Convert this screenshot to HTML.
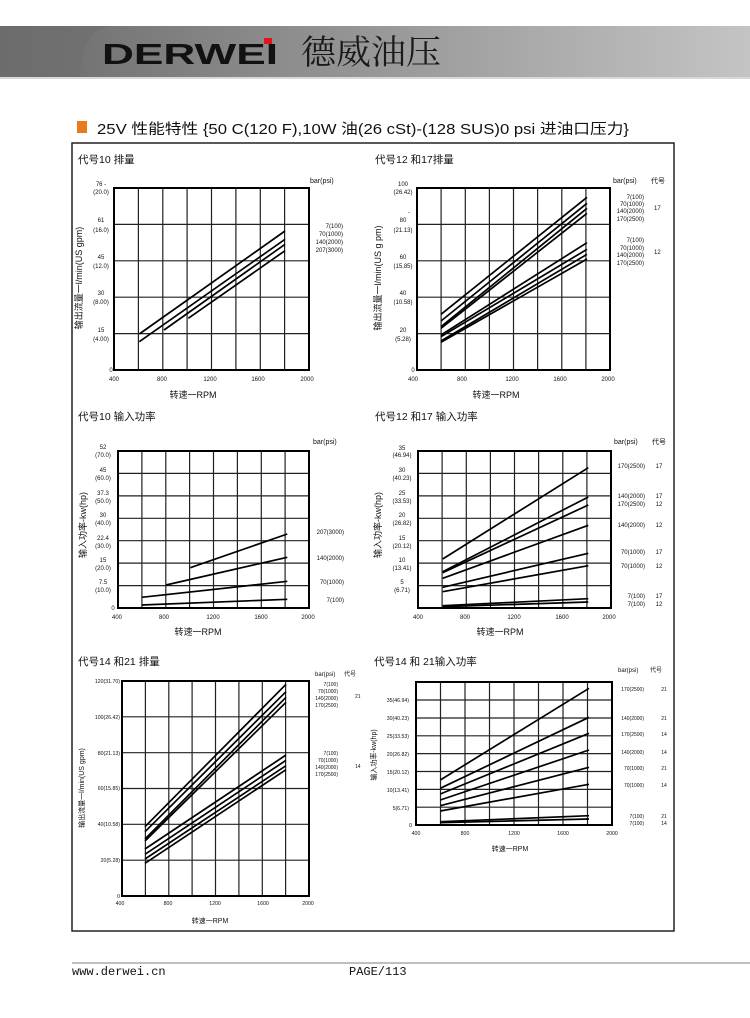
<!DOCTYPE html>
<html><head><meta charset="utf-8"><style>
html,body{margin:0;padding:0;background:#fff}
svg{display:block}
text{font-family:"Liberation Sans","Noto Sans CJK SC",sans-serif;fill:#111}
.g{stroke:#222;stroke-width:1.2;fill:none}
.f{stroke:#000;stroke-width:2;fill:none}
.d{stroke:#000;stroke-width:1.7;fill:none}
.t{font-size:10.5px}
.s{font-size:6px}
.m{font-size:7px}
.ax{font-size:9px}
</style></head><body>
<svg width="750" height="1018" viewBox="0 0 750 1018" xmlns="http://www.w3.org/2000/svg">
<defs>
<linearGradient id="hb" x1="0" x2="1" y1="0" y2="0">
<stop offset="0" stop-color="#6a6a6a"/><stop offset="0.35" stop-color="#8a8a8a"/><stop offset="0.7" stop-color="#a9a9a9"/><stop offset="1" stop-color="#c4c4c4"/>
</linearGradient>
</defs>
<rect x="0" y="26" width="750" height="52" fill="url(#hb)"/>
<path d="M80 78 Q82 30 110 26 L0 26 L0 78Z" fill="#6e6e6e" opacity="0.6"/>
<rect x="0" y="77" width="750" height="2" fill="#d8d8d8"/>
<text x="102" y="64" style="font-family:'Liberation Sans',sans-serif;font-weight:bold;font-size:29px;fill:#111" textLength="176" lengthAdjust="spacingAndGlyphs">DERWEI</text>
<rect x="264" y="38" width="8" height="6" fill="#e0141c"/>
<text x="301" y="64" style="font-family:'Noto Serif CJK SC',serif;font-size:34px;fill:#1a1a1a" textLength="140" lengthAdjust="spacingAndGlyphs">德威油压</text>

<rect x="77" y="121" width="10" height="12" fill="#e87a1e"/>
<text x="97" y="134" style="font-family:'Liberation Sans','Noto Sans CJK SC',sans-serif;font-size:14.5px" textLength="532" lengthAdjust="spacingAndGlyphs">25V 性能特性 {50 C(120 F),10W 油(26 cSt)-(128 SUS)0 psi 进油口压力}</text>

<rect x="72" y="143" width="602" height="788" fill="none" stroke="#222" stroke-width="1.5"/>

<!-- Chart 1 -->
<text x="78" y="163" class="t">代号10 排量</text>
<g class="g">
<line x1="138.4" y1="188" x2="138.4" y2="370"/><line x1="162.8" y1="188" x2="162.8" y2="370"/><line x1="187.1" y1="188" x2="187.1" y2="370"/><line x1="211.5" y1="188" x2="211.5" y2="370"/><line x1="235.9" y1="188" x2="235.9" y2="370"/><line x1="260.3" y1="188" x2="260.3" y2="370"/><line x1="284.6" y1="188" x2="284.6" y2="370"/>
<line x1="114" y1="224.4" x2="309" y2="224.4"/><line x1="114" y1="260.8" x2="309" y2="260.8"/><line x1="114" y1="297.2" x2="309" y2="297.2"/><line x1="114" y1="333.6" x2="309" y2="333.6"/>
</g>
<rect x="114" y="188" width="195" height="182" class="f"/>
<g class="d">
<line x1="139.3" y1="334" x2="285" y2="231"/><line x1="139.3" y1="341.7" x2="285" y2="239.3"/><line x1="164" y1="330" x2="285" y2="244.3"/><line x1="188.3" y1="318.3" x2="285" y2="250.7"/>
</g>
<g class="s" text-anchor="middle">
<text x="101" y="186">76 -</text><text x="101" y="194">(20.0)</text>
<text x="101" y="222">61</text><text x="101" y="232">(16.0)</text>
<text x="101" y="259">45</text><text x="101" y="268">(12.0)</text>
<text x="101" y="295">30</text><text x="101" y="304">(8.00)</text>
<text x="101" y="332">15</text><text x="101" y="341">(4.00)</text>
<text x="111" y="372">0</text>
<text x="114" y="381">400</text><text x="162" y="381">800</text><text x="210" y="381">1200</text><text x="258" y="381">1600</text><text x="307" y="381">2000</text>
</g>
<text x="193" y="398" class="ax" text-anchor="middle">转速一RPM</text>
<text transform="translate(82,278) rotate(-90)" class="ax" text-anchor="middle">输出流量一l/min(US gpm)</text>
<text x="310" y="183" class="m">bar(psi)</text>
<g class="s" text-anchor="end"><text x="343" y="228">7(100)</text><text x="343" y="236">70(1000)</text><text x="343" y="244">140(2000)</text><text x="343" y="252">207(3000)</text></g>

<!-- Chart 2 -->
<text x="375" y="163" class="t">代号12 和17排量</text>
<g class="g">
<line x1="441.1" y1="188" x2="441.1" y2="370"/><line x1="465.3" y1="188" x2="465.3" y2="370"/><line x1="489.4" y1="188" x2="489.4" y2="370"/><line x1="513.5" y1="188" x2="513.5" y2="370"/><line x1="537.6" y1="188" x2="537.6" y2="370"/><line x1="561.8" y1="188" x2="561.8" y2="370"/><line x1="585.9" y1="188" x2="585.9" y2="370"/>
<line x1="417" y1="224.4" x2="610" y2="224.4"/><line x1="417" y1="260.8" x2="610" y2="260.8"/><line x1="417" y1="297.2" x2="610" y2="297.2"/><line x1="417" y1="333.6" x2="610" y2="333.6"/>
</g>
<rect x="417" y="188" width="193" height="182" class="f"/>
<g class="d">
<line x1="441" y1="314.3" x2="587" y2="197.3"/><line x1="441" y1="321" x2="587" y2="203.3"/><line x1="441" y1="326.7" x2="587" y2="208.3"/><line x1="441" y1="328.3" x2="587" y2="213.3"/>
<line x1="441" y1="335" x2="587" y2="242.7"/><line x1="441" y1="336.7" x2="587" y2="249.3"/><line x1="441" y1="341" x2="587" y2="254.3"/><line x1="441" y1="342.3" x2="587" y2="259"/>
</g>
<g class="s" text-anchor="middle">
<text x="403" y="186">100</text><text x="403" y="194">(26.42)</text>
<text x="409" y="214">-</text>
<text x="403" y="222">80</text><text x="403" y="232">(21.13)</text>
<text x="403" y="259">60</text><text x="403" y="268">(15.85)</text>
<text x="403" y="295">40</text><text x="403" y="304">(10.58)</text>
<text x="403" y="332">20</text><text x="403" y="341">(5.28)</text>
<text x="413" y="372">0</text>
<text x="413" y="381">400</text><text x="462" y="381">800</text><text x="512" y="381">1200</text><text x="560" y="381">1600</text><text x="608" y="381">2000</text>
</g>
<text x="496" y="398" class="ax" text-anchor="middle">转速一RPM</text>
<text transform="translate(381,278) rotate(-90)" class="ax" text-anchor="middle">输出流量一l/min(US g pm)</text>
<text x="613" y="183" class="m">bar(psi)</text><text x="651" y="183" class="m">代号</text>
<g class="s" text-anchor="end">
<text x="644" y="199">7(100)</text><text x="644" y="206">70(1000)</text><text x="644" y="213">140(2000)</text><text x="644" y="221">170(2500)</text>
<text x="644" y="242">7(100)</text><text x="644" y="250">70(1000)</text><text x="644" y="257">140(2000)</text><text x="644" y="265">170(2500)</text>
</g>
<text x="654" y="210" class="s">17</text><text x="654" y="254" class="s">12</text>

<!-- Chart 3 -->
<text x="78" y="420" class="t">代号10 输入功率</text>
<g class="g">
<line x1="141.9" y1="451" x2="141.9" y2="608"/><line x1="165.8" y1="451" x2="165.8" y2="608"/><line x1="189.6" y1="451" x2="189.6" y2="608"/><line x1="213.5" y1="451" x2="213.5" y2="608"/><line x1="237.4" y1="451" x2="237.4" y2="608"/><line x1="261.3" y1="451" x2="261.3" y2="608"/><line x1="285.1" y1="451" x2="285.1" y2="608"/>
<line x1="118" y1="473.4" x2="309" y2="473.4"/><line x1="118" y1="495.9" x2="309" y2="495.9"/><line x1="118" y1="518.3" x2="309" y2="518.3"/><line x1="118" y1="540.7" x2="309" y2="540.7"/><line x1="118" y1="563.1" x2="309" y2="563.1"/><line x1="118" y1="585.6" x2="309" y2="585.6"/>
</g>
<rect x="118" y="451" width="191" height="157" class="f"/>
<g class="d">
<line x1="190.3" y1="567.7" x2="287.3" y2="534"/><line x1="166" y1="585" x2="287.3" y2="557.3"/><line x1="141.7" y1="597.3" x2="287.3" y2="581.3"/><line x1="141.7" y1="605" x2="287.3" y2="599.3"/>
</g>
<g class="s" text-anchor="middle">
<text x="103" y="449">52</text><text x="103" y="457">(70.0)</text>
<text x="103" y="472">45</text><text x="103" y="480">(60.0)</text>
<text x="103" y="495">37.3</text><text x="103" y="503">(50.0)</text>
<text x="103" y="517">30</text><text x="103" y="525">(40.0)</text>
<text x="103" y="540">22.4</text><text x="103" y="548">(30.0)</text>
<text x="103" y="562">15</text><text x="103" y="570">(20.0)</text>
<text x="103" y="584">7.5</text><text x="103" y="592">(10.0)</text>
<text x="113" y="610">0</text>
<text x="117" y="619">400</text><text x="164" y="619">800</text><text x="213" y="619">1200</text><text x="261" y="619">1600</text><text x="308" y="619">2000</text>
</g>
<text x="198" y="635" class="ax" text-anchor="middle">转速一RPM</text>
<text transform="translate(86,525) rotate(-90)" class="ax" text-anchor="middle">输入功率-kw(hp)</text>
<text x="313" y="444" class="m">bar(psi)</text>
<g class="s" text-anchor="end"><text x="344" y="534">207(3000)</text><text x="344" y="560">140(2000)</text><text x="344" y="584">70(1000)</text><text x="344" y="602">7(100)</text></g>

<!-- Chart 4 -->
<text x="375" y="420" class="t">代号12 和17 输入功率</text>
<g class="g">
<line x1="442.1" y1="451" x2="442.1" y2="608"/><line x1="466.3" y1="451" x2="466.3" y2="608"/><line x1="490.4" y1="451" x2="490.4" y2="608"/><line x1="514.5" y1="451" x2="514.5" y2="608"/><line x1="538.6" y1="451" x2="538.6" y2="608"/><line x1="562.8" y1="451" x2="562.8" y2="608"/><line x1="586.9" y1="451" x2="586.9" y2="608"/>
<line x1="418" y1="473.4" x2="611" y2="473.4"/><line x1="418" y1="495.9" x2="611" y2="495.9"/><line x1="418" y1="518.3" x2="611" y2="518.3"/><line x1="418" y1="540.7" x2="611" y2="540.7"/><line x1="418" y1="563.1" x2="611" y2="563.1"/><line x1="418" y1="585.6" x2="611" y2="585.6"/>
</g>
<rect x="418" y="451" width="193" height="157" class="f"/>
<g class="d">
<line x1="442.7" y1="559" x2="588.3" y2="467.7"/><line x1="442.7" y1="571.7" x2="588.3" y2="497"/><line x1="442.7" y1="572.7" x2="588.3" y2="505"/><line x1="442.7" y1="578.3" x2="588.3" y2="525.3"/>
<line x1="442.7" y1="587.3" x2="588.3" y2="553.3"/><line x1="442.7" y1="591.7" x2="588.3" y2="565.7"/><line x1="442.7" y1="605.7" x2="588.3" y2="598.7"/><line x1="442.7" y1="606.7" x2="588.3" y2="602"/>
</g>
<g class="s" text-anchor="middle">
<text x="402" y="450">35</text><text x="402" y="457">(46.94)</text>
<text x="402" y="472">30</text><text x="402" y="480">(40.23)</text>
<text x="402" y="495">25</text><text x="402" y="503">(33.53)</text>
<text x="402" y="517">20</text><text x="402" y="525">(26.82)</text>
<text x="402" y="540">15</text><text x="402" y="548">(20.12)</text>
<text x="402" y="562">10</text><text x="402" y="570">(13.41)</text>
<text x="402" y="584">5</text><text x="402" y="592">(6.71)</text>
<text x="418" y="619">400</text><text x="465" y="619">800</text><text x="514" y="619">1200</text><text x="562" y="619">1600</text><text x="609" y="619">2000</text>
</g>
<text x="500" y="635" class="ax" text-anchor="middle">转速一RPM</text>
<text transform="translate(381,525) rotate(-90)" class="ax" text-anchor="middle">输入功率-kw(hp)</text>
<text x="614" y="444" class="m">bar(psi)</text><text x="652" y="444" class="m">代号</text>
<g class="s" text-anchor="end">
<text x="645" y="468">170(2500)</text><text x="645" y="498">140(2000)</text><text x="645" y="506">170(2500)</text><text x="645" y="527">140(2000)</text><text x="645" y="554">70(1000)</text><text x="645" y="568">70(1000)</text><text x="645" y="598">7(100)</text><text x="645" y="606">7(100)</text>
</g>
<g class="s" text-anchor="middle">
<text x="659" y="468">17</text><text x="659" y="498">17</text><text x="659" y="506">12</text><text x="659" y="527">12</text><text x="659" y="554">17</text><text x="659" y="568">12</text><text x="659" y="598">17</text><text x="659" y="606">12</text>
</g>

<!-- Chart 5 -->
<text x="78" y="665" class="t">代号14 和21 排量</text>
<g class="g">
<line x1="145.4" y1="681" x2="145.4" y2="896"/><line x1="168.8" y1="681" x2="168.8" y2="896"/><line x1="192.1" y1="681" x2="192.1" y2="896"/><line x1="215.5" y1="681" x2="215.5" y2="896"/><line x1="238.9" y1="681" x2="238.9" y2="896"/><line x1="262.3" y1="681" x2="262.3" y2="896"/><line x1="285.6" y1="681" x2="285.6" y2="896"/>
<line x1="122" y1="716.8" x2="309" y2="716.8"/><line x1="122" y1="752.7" x2="309" y2="752.7"/><line x1="122" y1="788.5" x2="309" y2="788.5"/><line x1="122" y1="824.3" x2="309" y2="824.3"/><line x1="122" y1="860.2" x2="309" y2="860.2"/>
</g>
<rect x="122" y="681" width="187" height="215" class="f"/>
<g class="d">
<line x1="145" y1="826.7" x2="286" y2="684.3"/><line x1="145" y1="831.7" x2="286" y2="691.7"/><line x1="145" y1="839" x2="286" y2="697.3"/><line x1="145" y1="841" x2="286" y2="702.3"/>
<line x1="145" y1="849" x2="286" y2="755"/><line x1="145" y1="854.3" x2="286" y2="760.3"/><line x1="145" y1="859" x2="286" y2="765.7"/><line x1="145" y1="863.3" x2="286" y2="769.7"/>
</g>
<g class="s" text-anchor="end" style="font-size:5.2px">
<text x="120" y="683">120(31.70)</text><text x="120" y="719">100(26.42)</text><text x="120" y="755">80(21.13)</text><text x="120" y="790">60(15.85)</text><text x="120" y="826">40(10.58)</text><text x="120" y="862">20(5.28)</text><text x="120" y="898">0</text>
</g>
<g class="s" text-anchor="middle" style="font-size:5.2px">
<text x="120" y="905">400</text><text x="168" y="905">800</text><text x="215" y="905">1200</text><text x="263" y="905">1600</text><text x="308" y="905">2000</text>
</g>
<text x="210" y="923" class="m" text-anchor="middle">转速一RPM</text>
<text transform="translate(84,788) rotate(-90)" class="m" text-anchor="middle">输出流量一l/min(US gpm)</text>
<text x="315" y="676" class="s">bar(psi)</text><text x="344" y="676" class="s">代号</text>
<g class="s" text-anchor="end" style="font-size:5px">
<text x="338" y="686">7(100)</text><text x="338" y="693">70(1000)</text><text x="338" y="700">140(2000)</text><text x="338" y="707">170(2500)</text>
<text x="338" y="755">7(100)</text><text x="338" y="762">70(1000)</text><text x="338" y="769">140(2000)</text><text x="338" y="776">170(2500)</text>
</g>
<text x="355" y="698" class="s" style="font-size:5px">21</text><text x="355" y="768" class="s" style="font-size:5px">14</text>

<!-- Chart 6 -->
<text x="374" y="665" class="t">代号14 和 21输入功率</text>
<g class="g">
<line x1="440.5" y1="682" x2="440.5" y2="825"/><line x1="465" y1="682" x2="465" y2="825"/><line x1="489.5" y1="682" x2="489.5" y2="825"/><line x1="514" y1="682" x2="514" y2="825"/><line x1="538.5" y1="682" x2="538.5" y2="825"/><line x1="563" y1="682" x2="563" y2="825"/><line x1="587.5" y1="682" x2="587.5" y2="825"/>
<line x1="416" y1="700" x2="612" y2="700"/><line x1="416" y1="718" x2="612" y2="718"/><line x1="416" y1="735.8" x2="612" y2="735.8"/><line x1="416" y1="753.6" x2="612" y2="753.6"/><line x1="416" y1="771.5" x2="612" y2="771.5"/><line x1="416" y1="789.4" x2="612" y2="789.4"/><line x1="416" y1="807.2" x2="612" y2="807.2"/>
</g>
<rect x="416" y="682" width="196" height="143" class="f"/>
<g class="d">
<line x1="440.3" y1="780" x2="589" y2="688.3"/><line x1="440.3" y1="788.3" x2="589" y2="717.3"/><line x1="440.3" y1="794" x2="589" y2="733.3"/><line x1="440.3" y1="800" x2="589" y2="750"/>
<line x1="440.3" y1="805.7" x2="589" y2="767.3"/><line x1="440.3" y1="811" x2="589" y2="784.3"/><line x1="440.3" y1="821.7" x2="589" y2="815.7"/><line x1="440.3" y1="822.7" x2="589" y2="819"/>
</g>
<g class="s" text-anchor="end" style="font-size:5.2px">
<text x="409" y="702">35(46.94)</text><text x="409" y="720">30(40.23)</text><text x="409" y="738">25(33.53)</text><text x="409" y="756">20(26.82)</text><text x="409" y="774">15(20.12)</text><text x="409" y="792">10(13.41)</text><text x="409" y="810">5(6.71)</text><text x="412" y="827">0</text>
</g>
<g class="s" text-anchor="middle" style="font-size:5.2px">
<text x="416" y="835">400</text><text x="465" y="835">800</text><text x="514" y="835">1200</text><text x="563" y="835">1600</text><text x="612" y="835">2000</text>
</g>
<text x="510" y="851" class="m" text-anchor="middle">转速一RPM</text>
<text transform="translate(376,755) rotate(-90)" class="m" text-anchor="middle">输入功率-kw(hp)</text>
<text x="618" y="672" class="s">bar(psi)</text><text x="650" y="672" class="s">代号</text>
<g class="s" text-anchor="end" style="font-size:5px">
<text x="644" y="691">170(2500)</text><text x="644" y="720">140(2000)</text><text x="644" y="736">170(2500)</text><text x="644" y="754">140(2000)</text><text x="644" y="770">70(1000)</text><text x="644" y="787">70(1000)</text><text x="644" y="818">7(100)</text><text x="644" y="825">7(100)</text>
</g>
<g class="s" text-anchor="middle" style="font-size:5px">
<text x="664" y="691">21</text><text x="664" y="720">21</text><text x="664" y="736">14</text><text x="664" y="754">14</text><text x="664" y="770">21</text><text x="664" y="787">14</text><text x="664" y="818">21</text><text x="664" y="825">14</text>
</g>

<!-- footer -->
<line x1="72" y1="963" x2="750" y2="963" stroke="#aaa" stroke-width="1.5"/>
<text x="72" y="975" style="font-family:'Liberation Mono',monospace;font-size:12px">www.derwei.cn</text>
<text x="349" y="975" style="font-family:'Liberation Mono',monospace;font-size:12px">PAGE/113</text>
</svg>
</body></html>
